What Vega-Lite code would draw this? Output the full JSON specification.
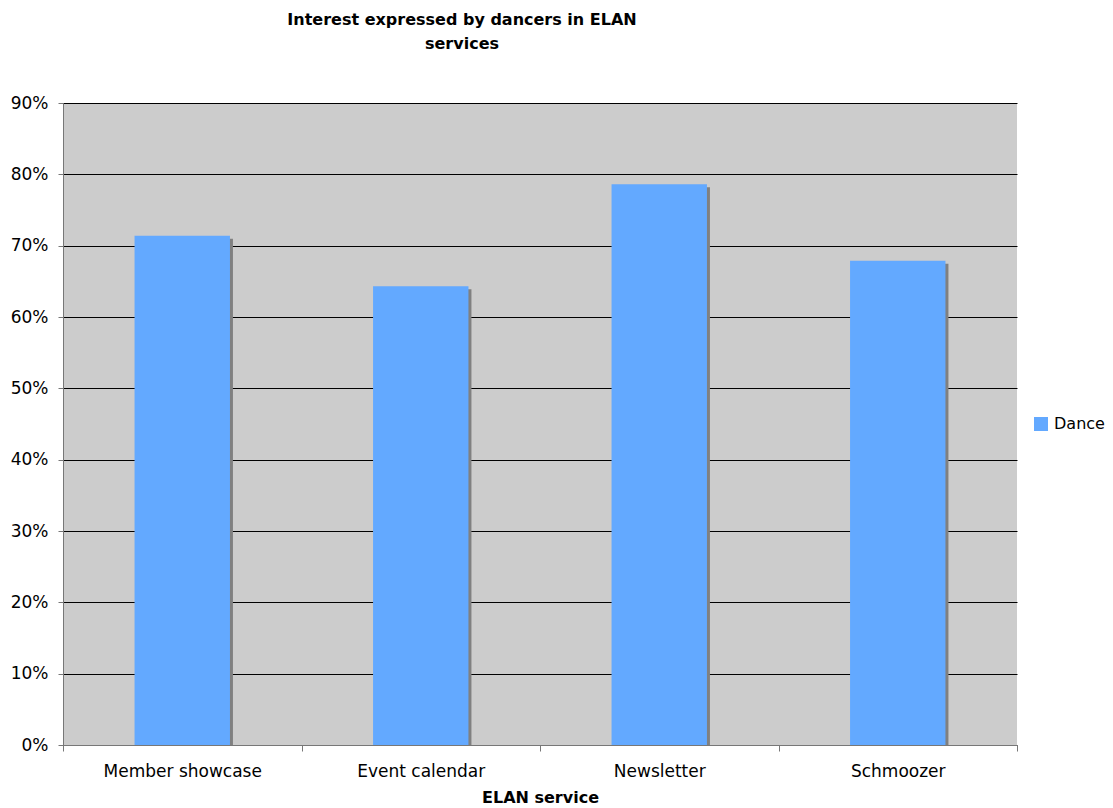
{
  "$schema": "https://vega.github.io/schema/vega-lite/v6.json",
  "width": 954,
  "height": 642,
  "autosize": {"type": "none"},
  "padding": {"left": 63, "top": 103, "right": 96, "bottom": 63},
  "background": "white",
  "config": {
    "font": "DejaVu Sans",
    "view": {"fill": "#CCCCCC", "stroke": null}
  },
  "title": {
    "text": ["Interest expressed by dancers in ELAN", "services"],
    "font": "DejaVu Sans",
    "fontSize": 16,
    "fontWeight": "bold",
    "color": "black",
    "anchor": "middle",
    "dx": -78,
    "lineHeight": 24,
    "offset": 42
  },
  "data": {
    "values": [
      {"service": "Member showcase", "interest": 0.714, "series": "Dance"},
      {"service": "Event calendar", "interest": 0.643, "series": "Dance"},
      {"service": "Newsletter", "interest": 0.786, "series": "Dance"},
      {"service": "Schmoozer", "interest": 0.679, "series": "Dance"}
    ]
  },
  "encoding": {
    "x": {
      "field": "service",
      "type": "nominal",
      "sort": null,
      "scale": {"paddingInner": 0, "paddingOuter": 0},
      "axis": {
        "title": "ELAN service",
        "titleFont": "DejaVu Sans",
        "titleFontSize": 16,
        "titleFontWeight": "bold",
        "titleColor": "black",
        "titlePadding": 10,
        "labelAngle": 0,
        "labelFontSize": 17,
        "labelColor": "black",
        "labelPadding": 12,
        "tickBand": "extent",
        "tickSize": 6,
        "tickColor": "#777777",
        "domainColor": "#777777",
        "grid": false
      }
    },
    "y": {
      "field": "interest",
      "type": "quantitative",
      "scale": {"domain": [0, 0.9], "nice": false},
      "axis": {
        "title": null,
        "values": [0, 0.1, 0.2, 0.3, 0.4, 0.5, 0.6, 0.7, 0.8, 0.9],
        "format": ".0%",
        "labelFontSize": 17,
        "labelColor": "black",
        "labelPadding": 10,
        "tickSize": 5,
        "tickColor": "#777777",
        "domainColor": "#777777",
        "grid": true,
        "gridColor": "black",
        "gridOpacity": 1,
        "gridWidth": 1
      }
    }
  },
  "layer": [
    {
      "mark": {"type": "bar", "color": "#808080", "xOffset": 3, "yOffset": 3, "clip": true, "width": {"band": 0.4}}
    },
    {
      "mark": {"type": "bar", "width": {"band": 0.4}},
      "encoding": {
        "color": {
          "field": "series",
          "type": "nominal",
          "scale": {"range": ["#63A9FF"]},
          "legend": {
            "title": null,
            "orient": "none",
            "legendX": 970,
            "legendY": 313,
            "symbolType": "square",
            "symbolSize": 196,
            "symbolStrokeWidth": 0,
            "labelFontSize": 16,
            "labelColor": "black",
            "labelOffset": 5
          }
        }
      }
    }
  ]
}
